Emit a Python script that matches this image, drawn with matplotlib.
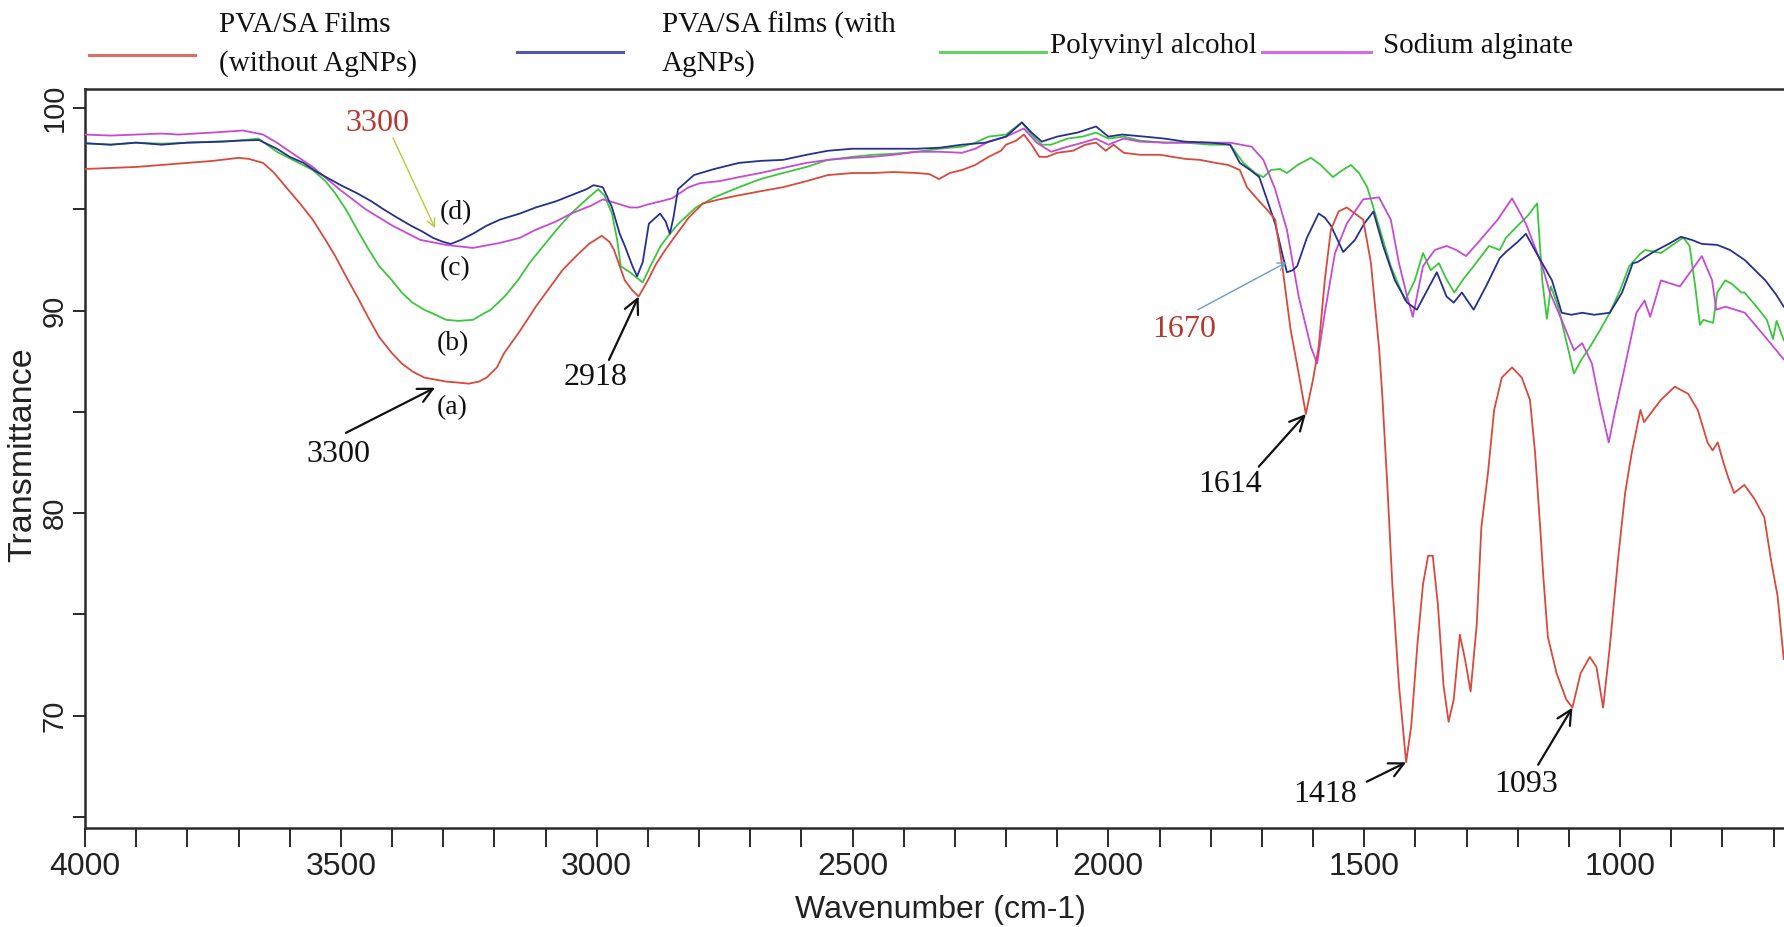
import matplotlib
matplotlib.use("Agg")
import matplotlib.pyplot as plt
from matplotlib import font_manager
from matplotlib.lines import Line2D
from matplotlib.ticker import MultipleLocator

# ---------------- data: FTIR spectra (wavenumber, % transmittance) ----------------
wn_pva_sa = [4000, 3950, 3900, 3850, 3800, 3750, 3700, 3680, 3652, 3630, 3607, 3580, 3555, 3530,
             3511, 3490, 3468, 3445, 3425, 3400, 3381, 3360, 3337, 3315, 3294, 3270, 3250, 3230,
             3215, 3195, 3181, 3150, 3119, 3090, 3067, 3040, 3015, 2990, 2975, 2966, 2955, 2945,
             2930, 2918, 2900, 2884, 2866, 2849, 2820, 2792, 2760, 2722, 2680, 2636, 2590, 2548,
             2500, 2461, 2420, 2374, 2350, 2331, 2310, 2286, 2260, 2234, 2210, 2200, 2180, 2165,
             2150, 2135, 2120, 2100, 2069, 2045, 2024, 2005, 1990, 1970, 1938, 1899, 1850, 1821,
             1790, 1766, 1743, 1729, 1705, 1690, 1674, 1660, 1644, 1628, 1614, 1600, 1589, 1577,
             1565, 1550, 1534, 1518, 1502, 1487, 1471, 1465, 1455, 1445, 1432, 1418, 1408, 1396,
             1385, 1375, 1366, 1356, 1345, 1335, 1325, 1313, 1303, 1292, 1280, 1271, 1258, 1246,
             1231, 1211, 1192, 1176, 1166, 1156, 1150, 1141, 1124, 1105, 1093, 1077, 1059, 1046,
             1033, 1020, 1004, 990, 977, 960, 953, 920, 893, 867, 848, 829, 819, 809, 799, 789,
             777, 757, 737, 718, 705, 692, 680]
t_pva_sa = [97.0, 97.05, 97.1, 97.2, 97.3, 97.4, 97.55, 97.5, 97.3, 96.8, 96.1, 95.3, 94.5, 93.5,
            92.7, 91.7, 90.7, 89.6, 88.7, 87.9, 87.4, 87.0, 86.7, 86.6, 86.5, 86.45, 86.4, 86.5,
            86.7, 87.2, 87.9, 89.0, 90.2, 91.2, 92.0, 92.7, 93.3, 93.7, 93.4, 93.0, 92.2, 91.5,
            91.0, 90.7, 91.5, 92.3, 93.0, 93.6, 94.6, 95.3, 95.5, 95.7, 95.9, 96.1, 96.4, 96.7,
            96.8, 96.8, 96.85, 96.8, 96.75, 96.5, 96.8, 96.95, 97.2, 97.6, 97.9, 98.2, 98.4, 98.7,
            98.2, 97.6, 97.6, 97.8, 97.9, 98.2, 98.3, 97.9, 98.2, 97.8, 97.7, 97.7, 97.5, 97.45,
            97.3, 97.2, 96.95, 96.1, 95.4, 95.0, 94.5, 92.2, 89.1, 86.9, 84.9, 86.6, 88.2, 91.5,
            94.0, 94.9, 95.1, 94.8, 94.5, 92.4, 88.2, 86.0, 81.5, 76.5, 71.5, 67.7, 69.5, 73.5,
            76.5, 77.9, 77.9, 75.5, 71.5, 69.7, 70.8, 74.0, 72.8, 71.2, 74.5, 79.3, 82.0, 85.1,
            86.7, 87.2, 86.7, 85.6, 83.0, 79.3, 76.9, 73.9, 72.1, 70.8, 70.4, 72.1, 72.9, 72.4,
            70.4, 73.4, 77.7, 81.0, 83.0, 85.1, 84.5, 85.6, 86.25, 85.9, 85.1, 83.5, 83.1, 83.5,
            82.6, 81.8, 81.0, 81.4, 80.7, 79.8, 77.7, 75.9, 72.8]

wn_pva_sa_ag = [4000, 3950, 3900, 3850, 3800, 3730, 3700, 3660, 3625, 3600, 3573, 3550, 3529, 3500,
                3468, 3440, 3416, 3390, 3363, 3340, 3320, 3300, 3285, 3265, 3242, 3215, 3189, 3150,
                3119, 3080, 3050, 3020, 3006, 2988, 2970, 2955, 2945, 2930, 2921, 2910, 2898, 2876,
                2865, 2857, 2850, 2841, 2810, 2770, 2722, 2680, 2636, 2590, 2548, 2500, 2461, 2374,
                2330, 2286, 2240, 2200, 2169, 2150, 2130, 2100, 2060, 2024, 2000, 1973, 1930, 1890,
                1850, 1800, 1762, 1743, 1720, 1705, 1690, 1674, 1660, 1651, 1640, 1631, 1612, 1589,
                1577, 1565, 1541, 1518, 1500, 1482, 1463, 1440, 1416, 1397, 1377, 1358, 1339, 1325,
                1309, 1286, 1262, 1235, 1223, 1200, 1184, 1160, 1133, 1114, 1095, 1074, 1050, 1020,
                996, 975, 966, 935, 905, 881, 860, 840, 810, 785, 756, 716, 695, 680]
t_pva_sa_ag = [98.27, 98.2, 98.3, 98.2, 98.3, 98.35, 98.4, 98.43, 98.0, 97.6, 97.3, 96.9, 96.6, 96.2,
               95.8, 95.4, 95.0, 94.6, 94.2, 93.9, 93.6, 93.4, 93.3, 93.5, 93.8, 94.2, 94.5, 94.8,
               95.1, 95.4, 95.7, 96.0, 96.2, 96.1, 95.1, 93.8, 93.2, 92.2, 91.7, 92.4, 94.3, 94.8,
               94.4, 93.8, 94.6, 96.0, 96.7, 97.0, 97.3, 97.4, 97.45, 97.7, 97.9, 98.0, 98.0, 98.0,
               98.05, 98.2, 98.3, 98.6, 99.3, 98.8, 98.35, 98.6, 98.8, 99.1, 98.6, 98.7, 98.6, 98.5,
               98.35, 98.3, 98.2, 97.3, 96.9, 96.6, 95.5, 94.3, 92.8, 91.9, 92.0, 92.2, 93.6, 94.8,
               94.6, 94.2, 92.9, 93.5, 94.3, 94.9, 93.2, 91.5, 90.4, 90.05, 91.0, 91.9, 90.7, 90.4,
               90.9, 90.05, 91.2, 92.6, 92.9, 93.4, 93.8, 92.7, 91.5, 89.9, 89.8, 89.9, 89.8, 89.9,
               90.9, 92.35, 92.4, 92.9, 93.3, 93.65, 93.5, 93.3, 93.25, 93.0, 92.5, 91.5, 90.8, 90.2]

wn_pva = [4000, 3950, 3900, 3850, 3800, 3750, 3700, 3661, 3625, 3590, 3555, 3530, 3511, 3490, 3468,
          3445, 3425, 3400, 3381, 3360, 3337, 3315, 3294, 3270, 3242, 3225, 3207, 3180, 3154, 3130,
          3101, 3075, 3050, 3020, 2997, 2985, 2970, 2960, 2953, 2935, 2920, 2910, 2895, 2875, 2857,
          2840, 2806, 2770, 2722, 2680, 2636, 2590, 2548, 2500, 2461, 2420, 2374, 2330, 2286, 2260,
          2234, 2200, 2169, 2150, 2130, 2112, 2080, 2050, 2024, 2000, 1970, 1938, 1890, 1850, 1800,
          1762, 1736, 1713, 1697, 1682, 1665, 1651, 1630, 1604, 1585, 1561, 1545, 1526, 1510, 1494,
          1475, 1448, 1420, 1401, 1385, 1370, 1354, 1340, 1324, 1305, 1286, 1256, 1235, 1223, 1200,
          1180, 1162, 1152, 1143, 1135, 1121, 1105, 1090, 1075, 1059, 1040, 1020, 1000, 982, 961,
          951, 920, 883, 876, 864, 853, 844, 837, 818, 810, 794, 780, 763, 757, 733, 713, 701, 694,
          680]
t_pva = [98.27, 98.2, 98.3, 98.25, 98.3, 98.35, 98.4, 98.5, 97.85, 97.4, 96.95, 96.4, 95.8, 95.0,
         94.0, 93.0, 92.2, 91.5, 90.9, 90.4, 90.05, 89.8, 89.55, 89.5, 89.55, 89.8, 90.05, 90.7,
         91.5, 92.4, 93.3, 94.1, 94.8, 95.5, 96.0, 95.7, 94.8, 93.5, 92.2, 91.9, 91.6, 91.4, 92.2,
         93.2, 93.8, 94.3, 95.1, 95.6, 96.1, 96.5, 96.8, 97.1, 97.45, 97.6, 97.7, 97.75, 97.85,
         98.0, 98.1, 98.3, 98.6, 98.7, 99.3, 98.7, 98.2, 98.2, 98.5, 98.6, 98.8, 98.5, 98.6, 98.4,
         98.3, 98.3, 98.2, 98.2, 97.3, 96.8, 96.6, 96.95, 97.0, 96.8, 97.2, 97.55, 97.2, 96.6,
         96.9, 97.2, 96.8, 96.1, 94.5, 92.2, 90.5, 91.5, 92.85, 92.0, 92.35, 91.6, 90.9, 91.6,
         92.2, 93.2, 93.0, 93.6, 94.2, 94.7, 95.3, 91.5, 89.6, 91.2, 90.2, 88.5, 86.9, 87.6, 88.2,
         89.0, 89.9, 91.0, 92.2, 92.8, 93.0, 92.85, 93.5, 93.6, 93.2, 91.2, 89.3, 89.55, 89.4,
         90.9, 91.5, 91.3, 90.9, 90.9, 90.2, 89.55, 88.6, 89.5, 88.55]

wn_sa = [4000, 3950, 3900, 3850, 3817, 3750, 3691, 3652, 3625, 3599, 3555, 3503, 3451, 3399, 3345,
         3294, 3242, 3189, 3150, 3119, 3080, 3050, 3010, 2988, 2960, 2935, 2919, 2900, 2875, 2853,
         2820, 2798, 2760, 2722, 2680, 2636, 2590, 2548, 2500, 2461, 2420, 2374, 2330, 2286, 2260,
         2234, 2200, 2165, 2140, 2112, 2080, 2050, 2024, 2000, 1970, 1938, 1890, 1850, 1800, 1762,
         1720, 1697, 1674, 1651, 1628, 1604, 1592, 1577, 1557, 1534, 1502, 1471, 1448, 1432, 1416,
         1405, 1385, 1362, 1339, 1320, 1301, 1278, 1239, 1211, 1184, 1152, 1137, 1114, 1090, 1074,
         1055, 1040, 1022, 1010, 996, 968, 952, 941, 920, 883, 860, 840, 820, 812, 794, 756, 716,
         680]
t_sa = [98.7, 98.65, 98.7, 98.75, 98.7, 98.8, 98.9, 98.7, 98.3, 97.85, 97.1, 96.0, 95.0, 94.2, 93.5,
        93.25, 93.1, 93.35, 93.6, 94.0, 94.4, 94.8, 95.2, 95.5, 95.3, 95.1, 95.1, 95.25, 95.4, 95.55,
        96.1, 96.3, 96.4, 96.6, 96.8, 97.05, 97.3, 97.45, 97.55, 97.6, 97.7, 97.85, 97.85, 97.8,
        98.0, 98.35, 98.6, 99.0, 98.3, 97.85, 98.1, 98.3, 98.5, 98.2, 98.5, 98.35, 98.3, 98.3,
        98.3, 98.3, 98.1, 97.45, 96.0, 94.0, 90.7, 88.2, 87.4, 89.9, 92.85, 94.3, 95.5, 95.6,
        94.5, 92.35, 90.7, 89.7, 92.2, 93.0, 93.2, 93.0, 92.7, 93.35, 94.5, 95.55, 94.3, 92.2,
        90.9, 89.55, 88.05, 88.4, 87.4, 85.5, 83.5, 85.0, 86.6, 89.9, 90.5, 89.7, 91.5, 91.2,
        92.0, 92.7, 91.5, 90.05, 90.2, 89.9, 88.7, 87.6]

series_labels = ["PVA/SA Films\n(without AgNPs)", "PVA/SA films (with\nAgNPs)",
                 "Polyvinyl alcohol", "Sodium alginate"]
series_colors = ["#d8493e", "#27308f", "#3cc63c", "#c64ad6"]

x_major_ticks = [4000, 3500, 3000, 2500, 2000, 1500, 1000]
y_major_ticks = [100, 90, 80, 70]

# ---------------- fonts ----------------
installed = {f.name for f in font_manager.fontManager.ttflist}
sans = "Liberation Sans" if "Liberation Sans" in installed else "DejaVu Sans"
narrow = "Liberation Sans Narrow" if "Liberation Sans Narrow" in installed else sans
narrow_size = 28 if narrow == "Liberation Sans Narrow" else 23
serif = "Liberation Serif" if "Liberation Serif" in installed else "DejaVu Serif"

W, H = 1784, 927
fig = plt.figure(figsize=(W / 100, H / 100), dpi=100)
fig.patch.set_facecolor("white")

left_px, right_px, top_px, bottom_px = 85, 1784, 89, 827.7
ax = fig.add_axes([left_px / W, 1 - bottom_px / H, (right_px - left_px) / W, (bottom_px - top_px) / H])

spectra = [(wn_pva_sa, t_pva_sa), (wn_pva_sa_ag, t_pva_sa_ag), (wn_pva, t_pva), (wn_sa, t_sa)]
draw_order = [2, 3, 1, 0]
for i in draw_order:
    wn, t = spectra[i]
    ax.plot(wn, t, color=series_colors[i], lw=1.3, zorder=3 + (i == 0))

ax.set_xlim(4000, 679.5)
ax.set_ylim(64.47, 100.95)

spine_col = "#2a2a2a"
for side in ("left", "bottom", "top"):
    ax.spines[side].set_color(spine_col)
    ax.spines[side].set_linewidth(1.8)
ax.spines["right"].set_visible(False)

ax.set_xticks(x_major_ticks)
ax.xaxis.set_minor_locator(MultipleLocator(100))
ax.set_yticks(y_major_ticks)
ax.yaxis.set_minor_locator(MultipleLocator(5))
ax.tick_params(axis="x", which="both", direction="out", length=13.5, width=1.4,
               color=spine_col, pad=4, top=False)
ax.tick_params(axis="y", which="both", direction="out", length=8.6, width=1.4,
               color=spine_col, pad=3, right=False)
for lab in ax.get_xticklabels():
    lab.set_fontfamily(narrow)
    lab.set_fontsize(narrow_size)
    lab.set_color("#222222")
for lab in ax.get_yticklabels():
    lab.set_fontfamily(sans)
    lab.set_fontsize(21)
    lab.set_rotation(90)
    lab.set_va("center")
    lab.set_color("#222222")


def fx(px):
    return px / W


def fy(py):
    return 1 - py / H


fig.text(fx(23), fy(455), "Transmittance", rotation=90, ha="center", va="center",
         family=sans, fontsize=24.5, color="#222222")
fig.text(fx(940), fy(910), "Wavenumber (cm-1)", ha="center", va="center",
         family=sans, fontsize=23, color="#222222")

# ---------------- legend row ----------------
legend_lines = [(89, 195, 55), (517, 623, 52), (940, 1046, 52), (1262, 1371, 52)]
for (x0, x1, yy), col in zip(legend_lines, series_colors):
    fig.add_artist(Line2D([fx(x0), fx(x1)], [fy(yy), fy(yy)], color=col, lw=2.2, alpha=0.8))

leg_font = dict(family=serif, fontsize=21, color="#111111", va="center", ha="left")
fig.text(fx(219), fy(25), series_labels[0].split("\n")[0], **leg_font)
fig.text(fx(219), fy(64), series_labels[0].split("\n")[1], **leg_font)
fig.text(fx(662), fy(25), series_labels[1].split("\n")[0], **leg_font)
fig.text(fx(662), fy(64), series_labels[1].split("\n")[1], **leg_font)
fig.text(fx(1050), fy(46), series_labels[2], **leg_font)
fig.text(fx(1383), fy(46), series_labels[3], **leg_font)

# ---------------- peak annotations ----------------
note_font = dict(family=serif, fontsize=23, ha="center", va="center", zorder=6)
arrow_black = dict(arrowstyle="->", color="#111111", lw=1.6, shrinkA=0, shrinkB=0,
                   mutation_scale=26)

ax.text(3429, 99.27, "3300", color="#b23a30", **note_font)
ax.annotate("", xy=(3316, 94.08), xytext=(3398, 98.53),
            arrowprops=dict(arrowstyle="->", color="#b9c93c", lw=1.0, shrinkA=0, shrinkB=0,
                            mutation_scale=14), zorder=6)

for lbl, (wx, ty) in zip(["(d)", "(c)", "(b)", "(a)"],
                         [(3275, 94.84), (3277, 92.1), (3281, 88.4), (3283, 85.2)]):
    ax.text(wx, ty, lbl, family=serif, fontsize=20, color="#111111",
            ha="center", va="center", zorder=6)

ax.text(3504, 82.9, "3300", color="#111111", **note_font)
ax.annotate("", xy=(3316, 86.2), xytext=(3490, 83.97), arrowprops=arrow_black, zorder=6)

ax.text(3003, 86.68, "2918", color="#111111", **note_font)
ax.annotate("", xy=(2918, 90.7), xytext=(2976, 87.57), arrowprops=arrow_black, zorder=6)

ax.text(1852, 89.05, "1670", color="#b23a30", **note_font)
ax.annotate("", xy=(1651, 92.4), xytext=(1825, 90.05),
            arrowprops=dict(arrowstyle="->", color="#6d9cc4", lw=1.0, shrinkA=0, shrinkB=0,
                            mutation_scale=14), zorder=6)

ax.text(1762, 81.4, "1614", color="#111111", **note_font)
ax.annotate("", xy=(1614, 84.9), xytext=(1706, 82.3), arrowprops=arrow_black, zorder=6)

ax.text(1577, 66.1, "1418", color="#111111", **note_font)
ax.annotate("", xy=(1418, 67.7), xytext=(1495, 66.74), arrowprops=arrow_black, zorder=6)

ax.text(1184, 66.6, "1093", color="#111111", **note_font)
ax.annotate("", xy=(1093, 70.4), xytext=(1160, 67.58), arrowprops=arrow_black, zorder=6)

fig.savefig("out.png", dpi=100, facecolor="white")
